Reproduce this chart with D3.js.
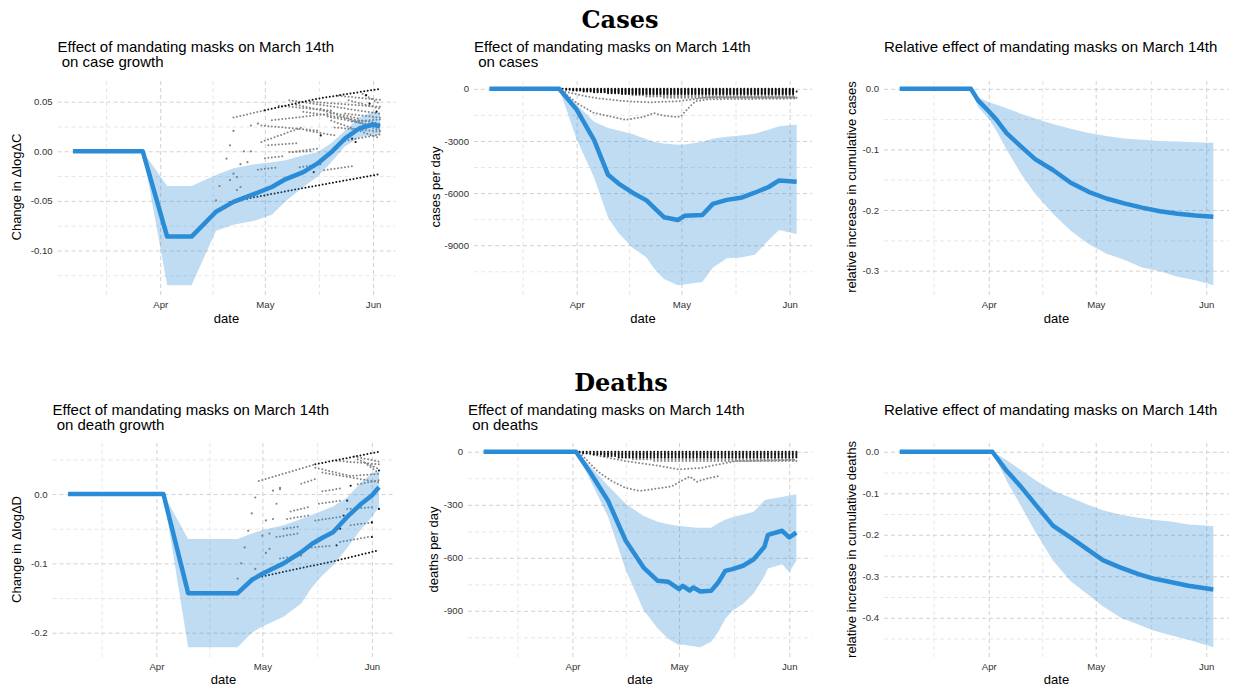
<!DOCTYPE html>
<html><head><meta charset="utf-8">
<script src="https://cdn.jsdelivr.net/npm/d3@7"></script>
<style>
body{margin:0;background:#fff;}
svg{display:block;}
</style></head><body>
<script>
// ---------------- shared axis data ----------------
const monthTicks = ["2020-04-01","2020-05-01","2020-06-01"];
const monthLabels = ["Apr","May","Jun"];
const monthStarts = ["2020-03-01","2020-04-01","2020-05-01","2020-06-01","2020-07-01"];

// ---------------- Cases: effect on case growth ----------------
const cgDates = ["2020-03-07","2020-03-27","2020-04-03","2020-04-10","2020-04-17","2020-04-22","2020-04-28","2020-05-03","2020-05-07","2020-05-12","2020-05-16","2020-05-20","2020-05-24","2020-05-28","2020-06-01","2020-06-03"];
const cgMean = [0,0,-0.086,-0.086,-0.061,-0.051,-0.043,-0.036,-0.028,-0.021,-0.0125,-0.001,0.013,0.023,0.027,0.025];
const cgHigh = [0,0,-0.035,-0.035,-0.024,-0.017,-0.013,-0.011,-0.009,-0.004,-0.001,0.008,0.021,0.034,0.040,0.038];
const cgLow  = [0,0,-0.135,-0.135,-0.080,-0.074,-0.070,-0.064,-0.050,-0.036,-0.026,-0.011,0.005,0.014,0.017,0.016];
const cgDotLines = [
 {group:"path",  pts:[["2020-04-22",0.034],["2020-05-01",0.0414]]},
 {group:"bound", pts:[["2020-05-01",0.0414],["2020-05-16",0.053],["2020-06-03",0.063]]},
 {group:"bound", pts:[["2020-04-21",-0.051],["2020-05-11",-0.0377],["2020-06-03",-0.023]]},
 {group:"path", pts:[["2020-04-30",0.026],["2020-05-16",0.021]]},
 {group:"path", pts:[["2020-05-02",0.006],["2020-05-10",0.008]]},
 {group:"path", pts:[["2020-05-09",-0.0007],["2020-05-16",0.0027]]},
 {group:"path", pts:[["2020-04-29",-0.0185],["2020-05-04",-0.0165]]},
 {group:"path", pts:[["2020-05-18",-0.019],["2020-05-26",-0.015]]},
 {group:"path", pts:[["2020-05-08",0.0515],["2020-06-03",0.038]]},
 {group:"path", pts:[["2020-05-12",0.040],["2020-06-03",0.028]]},
 {group:"path", pts:[["2020-05-17",0.043],["2020-06-03",0.021]]},
 {group:"path", pts:[["2020-05-20",0.031],["2020-06-03",0.013]]},
 {group:"path", pts:[["2020-05-13",0.021],["2020-05-21",0.016]]},
 {group:"path", pts:[["2020-05-25",0.0515],["2020-06-03",0.043]]},
 {group:"path", pts:[["2020-05-29",0.058],["2020-06-03",0.048]]},
 {group:"path", pts:[["2020-05-21",0.024],["2020-06-03",0.020]]},
 {group:"path", pts:[["2020-05-23",0.010],["2020-06-03",0.017]]},
 {group:"path", pts:[["2020-05-26",0.030],["2020-06-03",0.032]]},
 {group:"path", pts:[["2020-05-19",0.035],["2020-06-03",0.025]]},
 {group:"path", pts:[["2020-05-01",-0.007],["2020-05-06",-0.005]]},
 {group:"path", pts:[["2020-05-08",-0.0007],["2020-05-14",0.0]]},
 {group:"path", pts:[["2020-05-11",-0.016],["2020-05-17",-0.013]]},
 {group:"path", pts:[["2020-04-30",0.0094],["2020-05-12",0.0246]]},
 {group:"path", pts:[["2020-05-03",0.0313],["2020-05-20",0.038]]},
 {group:"path", pts:[["2020-05-05",0.046],["2020-05-20",0.041]]},
 {group:"path", pts:[["2020-05-10",0.047],["2020-05-28",0.033]]},
 {group:"path", pts:[["2020-05-14",0.050],["2020-06-03",0.045]]},
 {group:"path", pts:[["2020-05-22",0.056],["2020-06-03",0.052]]},
 {group:"path", pts:[["2020-05-24",0.038],["2020-06-03",0.034]]}
];
const cgPathDots = [["2020-04-22",0.0205],["2020-04-27",0.026],["2020-04-29",0.028],["2020-04-20",-0.0074],["2020-04-25",0.0],["2020-04-27",0.0],["2020-04-24",-0.013],["2020-04-26",-0.011],["2020-04-23",-0.026],["2020-04-24",-0.036],["2020-04-18",-0.035],["2020-04-17",-0.0495],["2020-04-21",-0.029],["2020-04-22",-0.0226],["2020-04-21",0.006],["2020-04-23",-0.039]];
const cgBoundDots = [["2020-05-31",0.048],["2020-05-30",0.0566],["2020-06-02",0.040],["2020-05-26",0.0128],["2020-05-17",0.016],["2020-05-15",-0.021],["2020-05-27",0.0094]];
const cgYTicks = [0.05,0,-0.05,-0.10];
const cgYLabels = ["0.05","0.00","-0.05","-0.10"];

// ---------------- Cases: effect on cases per day ----------------
const ccDates = ["2020-03-07","2020-03-27","2020-04-01","2020-04-06","2020-04-10","2020-04-13","2020-04-17","2020-04-21","2020-04-23","2020-04-26","2020-04-30","2020-05-02","2020-05-07","2020-05-10","2020-05-14","2020-05-18","2020-05-22","2020-05-26","2020-05-29","2020-06-03"];
const ccMean = [0,0,-1200,-2950,-4950,-5450,-5980,-6420,-6810,-7390,-7550,-7300,-7260,-6620,-6390,-6270,-5980,-5650,-5270,-5350];
const ccHigh = [0,0,-900,-1900,-2250,-2400,-2600,-2900,-3050,-3150,-3220,-3200,-3050,-2880,-2760,-2680,-2580,-2350,-2150,-2070];
const ccLow  = [0,0,-2900,-5100,-7400,-8300,-9150,-9700,-10300,-10950,-11300,-11250,-11120,-10300,-9750,-9700,-9550,-8700,-8130,-8350];
const ccCombLevels = [0,-50,-100,-150,-200,-250,-300,-370,-440,-510];
const ccCombStarts = ["2020-03-27","2020-03-29","2020-03-31","2020-04-03","2020-04-06","2020-04-10","2020-04-14","2020-04-17","2020-04-21","2020-04-26"];
const ccCombGroups = ["bound","bound","bound","bound","bound","bound","bound","path","path","path"];
const ccDotLines = [
 {group:"path", pts:[["2020-03-27",0],["2020-04-01",-813],["2020-04-06",-1393],["2020-04-15",-1780],["2020-04-20",-1625],["2020-04-23",-1393],["2020-04-26",-1548],["2020-04-30",-1625],["2020-05-01",-1548],["2020-05-03",-1103],["2020-05-05",-716],["2020-05-09",-600],["2020-06-03",-560]]},
 {group:"path", pts:[["2020-03-27",0],["2020-03-28",-135],["2020-04-06",-522],["2020-04-15",-716],["2020-04-22",-774],["2020-04-30",-716],["2020-05-09",-480],["2020-06-03",-480]]}
];
const ccYTicks = [0,-3000,-6000,-9000];
const ccYLabels = ["0","-3000","-6000","-9000"];

// ---------------- Cases: relative cumulative ----------------
const rcDates = ["2020-03-07","2020-03-27","2020-03-29","2020-04-01","2020-04-03","2020-04-06","2020-04-10","2020-04-14","2020-04-19","2020-04-24","2020-04-29","2020-05-04","2020-05-09","2020-05-14","2020-05-19","2020-05-24","2020-05-29","2020-06-03"];
const rcMean = [0,0,-0.019,-0.037,-0.050,-0.073,-0.095,-0.116,-0.134,-0.155,-0.170,-0.181,-0.189,-0.196,-0.202,-0.206,-0.209,-0.211];
const rcHigh = [0,0,-0.014,-0.022,-0.026,-0.032,-0.041,-0.049,-0.058,-0.066,-0.073,-0.078,-0.082,-0.084,-0.086,-0.087,-0.088,-0.089];
const rcLow  = [0,0,-0.030,-0.050,-0.068,-0.100,-0.140,-0.173,-0.206,-0.234,-0.256,-0.272,-0.282,-0.295,-0.301,-0.310,-0.316,-0.324];
const rcYTicks = [0,-0.1,-0.2,-0.3];
const rcYLabels = ["0.0","-0.1","-0.2","-0.3"];

// ---------------- Deaths: effect on death growth ----------------
const dgDates = ["2020-03-07","2020-04-03","2020-04-10","2020-04-17","2020-04-24","2020-04-28","2020-05-01","2020-05-07","2020-05-12","2020-05-15","2020-05-18","2020-05-21","2020-05-25","2020-05-29","2020-06-01","2020-06-03"];
const dgMean = [0,0,-0.143,-0.143,-0.143,-0.124,-0.115,-0.100,-0.084,-0.072,-0.063,-0.055,-0.033,-0.014,-0.002,0.010];
const dgHigh = [0,0,-0.065,-0.065,-0.065,-0.057,-0.052,-0.045,-0.036,-0.030,-0.024,-0.018,-0.005,0.017,0.030,0.033];
const dgLow  = [0,0,-0.221,-0.221,-0.221,-0.200,-0.191,-0.177,-0.158,-0.135,-0.117,-0.103,-0.078,-0.050,-0.033,-0.019];
const dgDotLines = [
 {group:"path",  pts:[["2020-04-30",0.019],["2020-05-16",0.043]]},
 {group:"bound", pts:[["2020-05-16",0.043],["2020-06-03",0.061]]},
 {group:"bound", pts:[["2020-04-28",-0.122],["2020-05-22",-0.096],["2020-06-03",-0.081]]},
 {group:"path", pts:[["2020-05-12",0.015],["2020-05-16",0.0215]]},
 {group:"path", pts:[["2020-05-18",0.004],["2020-05-23",0.008]]},
 {group:"path", pts:[["2020-05-16",0.038],["2020-05-26",0.026],["2020-06-03",0.029]]},
 {group:"path", pts:[["2020-05-18",0.031],["2020-06-03",0.017]]},
 {group:"path", pts:[["2020-05-22",0.048],["2020-06-03",0.043]]},
 {group:"path", pts:[["2020-05-09",-0.025],["2020-05-14",-0.019]]},
 {group:"path", pts:[["2020-05-17",-0.014],["2020-05-23",-0.0096]]},
 {group:"path", pts:[["2020-05-28",0.014],["2020-06-03",0.020]]},
 {group:"path", pts:[["2020-05-07",-0.050],["2020-05-11",-0.047]]},
 {group:"path", pts:[["2020-05-16",-0.038],["2020-05-23",-0.033]]},
 {group:"path", pts:[["2020-05-06",-0.093],["2020-05-12",-0.089]]},
 {group:"path", pts:[["2020-05-15",-0.077],["2020-05-20",-0.075]]},
 {group:"path", pts:[["2020-05-23",-0.069],["2020-05-31",-0.062]]},
 {group:"path", pts:[["2020-05-26",-0.045],["2020-06-01",-0.041]]},
 {group:"path", pts:[["2020-05-25",-0.0215],["2020-06-01",-0.019]]},
 {group:"path", pts:[["2020-05-27",0.054],["2020-06-03",0.047]]},
 {group:"path", pts:[["2020-05-28",0.050],["2020-06-03",0.036]]},
 {group:"path", pts:[["2020-05-30",0.045],["2020-06-03",0.030]]},
 {group:"path", pts:[["2020-05-05",-0.062],["2020-05-11",-0.057]]},
 {group:"path", pts:[["2020-05-08",-0.036],["2020-05-14",-0.031]]}
];
const dgPathDots = [["2020-04-29",-0.005],["2020-05-04",0.005],["2020-05-06",0.007],["2020-04-28",-0.028],["2020-05-02",-0.038],["2020-05-04",-0.036],["2020-05-01",-0.060],["2020-04-26",-0.077],["2020-05-03",-0.079],["2020-04-29",-0.108],["2020-04-25",-0.100],["2020-04-24",-0.122],["2020-04-27",-0.053],["2020-05-02",-0.085],["2020-05-06",0.009],["2020-05-05",-0.014],["2020-05-03",-0.057]];
const dgBoundDots = [["2020-05-25",-0.0096],["2020-05-26",0.012],["2020-05-22",-0.074],["2020-05-24",-0.031],["2020-06-03",-0.0215],["2020-06-01",-0.062],["2020-06-01",-0.041],["2020-06-03",0.034],["2020-05-23",-0.050]];
const dgYTicks = [0,-0.1,-0.2];
const dgYLabels = ["0.0","-0.1","-0.2"];

// ---------------- Deaths: effect on deaths per day ----------------
const pdDates = ["2020-03-07","2020-04-02","2020-04-06","2020-04-11","2020-04-16","2020-04-21","2020-04-25","2020-04-28","2020-05-01","2020-05-02","2020-05-04","2020-05-05","2020-05-07","2020-05-10","2020-05-12","2020-05-14","2020-05-16","2020-05-19","2020-05-22","2020-05-25","2020-05-26","2020-05-30","2020-06-01","2020-06-03"];
const pdMean = [0,0,-117,-277,-504,-655,-730,-736,-777,-759,-785,-768,-791,-787,-740,-674,-664,-645,-608,-538,-470,-447,-485,-457];
const pdHigh = [0,0,-80,-192,-294,-364,-396,-410,-420,-422,-426,-428,-430,-430,-405,-385,-370,-355,-340,-275,-268,-256,-248,-240];
const pdLow  = [0,0,-160,-367,-670,-895,-1000,-1060,-1095,-1090,-1097,-1100,-1106,-1075,-1020,-945,-900,-862,-800,-705,-660,-636,-680,-617];
const pdCombLevels = [0,-8,-16,-24,-32,-42,-52];
const pdCombStarts = ["2020-04-02","2020-04-04","2020-04-07","2020-04-10","2020-04-14","2020-04-18","2020-04-24"];
const pdCombGroups = ["bound","bound","bound","bound","bound","path","path"];
const pdDotLines = [
 {group:"path", pts:[["2020-04-03",-5],["2020-04-08",-110],["2020-04-12",-165],["2020-04-16",-205],["2020-04-20",-222],["2020-04-26",-205],["2020-04-29",-195],["2020-05-02",-161],["2020-05-04",-140],["2020-05-06",-170],["2020-05-09",-150],["2020-05-12",-138]]},
 {group:"path", pts:[["2020-04-03",-3],["2020-04-09",-25],["2020-04-16",-53],["2020-04-26",-82],["2020-05-01",-100],["2020-05-07",-92],["2020-05-12",-72],["2020-05-17",-53],["2020-06-03",-46]]}
];
const pdYTicks = [0,-300,-600,-900];
const pdYLabels = ["0","-300","-600","-900"];

// ---------------- Deaths: relative cumulative ----------------
const rdDates = ["2020-03-07","2020-04-02","2020-04-06","2020-04-10","2020-04-14","2020-04-19","2020-04-24","2020-04-29","2020-05-03","2020-05-08","2020-05-13","2020-05-17","2020-05-22","2020-05-27","2020-06-03"];
const rdMean = [0,0,-0.046,-0.084,-0.126,-0.178,-0.207,-0.237,-0.261,-0.279,-0.295,-0.305,-0.314,-0.323,-0.332];
const rdHigh = [0,0,-0.020,-0.044,-0.068,-0.094,-0.111,-0.128,-0.141,-0.152,-0.159,-0.164,-0.168,-0.175,-0.179];
const rdLow  = [0,0,-0.070,-0.130,-0.192,-0.262,-0.312,-0.345,-0.372,-0.400,-0.416,-0.430,-0.442,-0.453,-0.471];
const rdYTicks = [0,-0.1,-0.2,-0.3,-0.4];
const rdYLabels = ["0.0","-0.1","-0.2","-0.3","-0.4"];

// ---------------- layout (positions & styles) ----------------
const BLUE = "#2a8bd6";
const SANS = "'Liberation Sans', Arial, Helvetica, sans-serif";
const svg = d3.select("body").append("svg").attr("width",1234).attr("height",686);
const parse = d3.timeParse("%Y-%m-%d");

const panels = [
 {rect:[57.6,395.4,79,295], title:["Effect of mandating masks on March 14th"," on case growth"], ytitle:"Change in \u0394log\u0394C", ytx:21, dateY:323,
  dates:cgDates, mean:cgMean, high:cgHigh, low:cgLow, dotLines:cgDotLines, pathDots:cgPathDots, boundDots:cgBoundDots, yTicks:cgYTicks, yLabels:cgYLabels},
 {rect:[474,812,79,295], title:["Effect of mandating masks on March 14th"," on cases"], ytitle:"cases per day", ytx:439.5, dateY:323,
  dates:ccDates, mean:ccMean, high:ccHigh, low:ccLow, dotLines:ccDotLines, combLevels:ccCombLevels, combStarts:ccCombStarts, combGroups:ccCombGroups, yTicks:ccYTicks, yLabels:ccYLabels},
 {rect:[884,1229,79,295], title:["Relative effect of mandating masks on March 14th"], ytitle:"relative increase in cumulative cases", ytx:856, dateY:323,
  dates:rcDates, mean:rcMean, high:rcHigh, low:rcLow, yTicks:rcYTicks, yLabels:rcYLabels},
 {rect:[52.5,394.5,442,657], title:["Effect of mandating masks on March 14th"," on death growth"], ytitle:"Change in \u0394log\u0394D", ytx:21, dateY:683.5,
  dates:dgDates, mean:dgMean, high:dgHigh, low:dgLow, dotLines:dgDotLines, pathDots:dgPathDots, boundDots:dgBoundDots, yTicks:dgYTicks, yLabels:dgYLabels},
 {rect:[468,812,442,657], title:["Effect of mandating masks on March 14th"," on deaths"], ytitle:"deaths per day", ytx:438, dateY:683.5,
  dates:pdDates, mean:pdMean, high:pdHigh, low:pdLow, dotLines:pdDotLines, combLevels:pdCombLevels, combStarts:pdCombStarts, combGroups:pdCombGroups, yTicks:pdYTicks, yLabels:pdYLabels},
 {rect:[884,1229,442,657], title:["Relative effect of mandating masks on March 14th"], ytitle:"relative increase in cumulative deaths", ytx:856, dateY:683.5,
  dates:rdDates, mean:rdMean, high:rdHigh, low:rdLow, yTicks:rdYTicks, yLabels:rdYLabels}
];

function styleGrid(sel, color, width){
  sel.select(".domain").remove();
  sel.selectAll(".tick line").attr("stroke",color).attr("stroke-width",width).attr("stroke-dasharray","4,3");
}

panels.forEach(cfg=>{
  const [x0,x1,y0,y1] = cfg.rect;
  const g = svg.append("g");
  const mean = cfg.dates.map((d,i)=>({date:parse(d), v:cfg.mean[i]}));
  const band = cfg.dates.map((d,i)=>({date:parse(d), lo:cfg.low[i], hi:cfg.high[i]}));
  const lines = (cfg.dotLines||[]).map(s=>({group:s.group, pts:s.pts.map(p=>({date:parse(p[0]), v:p[1]}))}));
  const lastDate = mean[mean.length-1].date;
  (cfg.combLevels||[]).forEach((lv,i)=>lines.push({group:cfg.combGroups[i], pts:[{date:parse(cfg.combStarts[i]),v:lv},{date:lastDate,v:lv}]}));
  const singles = [...(cfg.pathDots||[]).map(p=>({date:parse(p[0]),v:p[1],group:"path"})),
                   ...(cfg.boundDots||[]).map(p=>({date:parse(p[0]),v:p[1],group:"bound"}))];
  const allD = [...mean.map(d=>d.date), ...lines.flatMap(l=>l.pts.map(p=>p.date)), ...singles.map(s=>s.date)];
  const allV = [...cfg.mean, ...cfg.low, ...cfg.high, ...lines.flatMap(l=>l.pts.map(p=>p.v)), ...singles.map(s=>s.v)];
  const [dmin,dmax] = d3.extent(allD), [vmin,vmax] = d3.extent(allV);
  const dx = (dmax-dmin)*0.05, dv = (vmax-vmin)*0.05;
  const x = d3.scaleTime().domain([new Date(+dmin-dx), new Date(+dmax+dx)]).range([x0,x1]);
  const y = d3.scaleLinear().domain([vmin-dv, vmax+dv]).range([y1,y0]);

  // grid
  const mTicks = monthTicks.map(parse);
  const ms = monthStarts.map(parse);
  const xMinor = d3.pairs(ms).map(([a,b])=>new Date((+a + +b)/2)).filter(d=>d>=x.domain()[0] && d<=x.domain()[1]);
  const ySorted = cfg.yTicks.slice().sort((a,b)=>a-b);
  const step = ySorted[1]-ySorted[0];
  const yMinor = [ySorted[0]-step/2, ...d3.pairs(ySorted).map(([a,b])=>(a+b)/2), ySorted[ySorted.length-1]+step/2]
                 .filter(v=>v>=y.domain()[0] && v<=y.domain()[1]);

  g.append("g").attr("transform",`translate(0,${y1})`).call(d3.axisBottom(x).tickValues(xMinor).tickSize(-(y1-y0)).tickFormat("")).call(s=>styleGrid(s,"#dcdcdc",0.7));
  g.append("g").attr("transform",`translate(${x0},0)`).call(d3.axisLeft(y).tickValues(yMinor).tickSize(-(x1-x0)).tickFormat("")).call(s=>styleGrid(s,"#dcdcdc",0.7));
  g.append("g").attr("transform",`translate(0,${y1})`).call(d3.axisBottom(x).tickValues(mTicks).tickSize(-(y1-y0)).tickFormat("")).call(s=>styleGrid(s,"#cccccc",0.9));
  g.append("g").attr("transform",`translate(${x0},0)`).call(d3.axisLeft(y).tickValues(cfg.yTicks).tickSize(-(x1-x0)).tickFormat("")).call(s=>styleGrid(s,"#cccccc",0.9));

  // tick labels
  const xl = g.append("g").attr("transform",`translate(0,${y1})`)
    .call(d3.axisBottom(x).tickValues(mTicks).tickSize(0).tickPadding(6.5).tickFormat((d,i)=>monthLabels[i]));
  xl.select(".domain").remove();
  xl.attr("font-size",null).attr("font-family",null);
  xl.selectAll("text").style("font-size","9.6px").style("font-family",SANS).attr("fill","#333");
  const yl = g.append("g").attr("transform",`translate(${x0},0)`)
    .call(d3.axisLeft(y).tickValues(cfg.yTicks).tickSize(0).tickPadding(5).tickFormat((d,i)=>cfg.yLabels[i]));
  yl.select(".domain").remove();
  yl.selectAll("text").style("font-size","9.6px").style("font-family",SANS).attr("fill","#333");

  // dotted series
  const pxDay = x(d3.timeDay.offset(dmin,1)) - x(dmin);
  const lg = d3.line().x(d=>x(d.date)).y(d=>y(d.v));
  g.append("g").selectAll("path").data(lines.filter(l=>l.group==="path")).join("path")
    .attr("d",l=>lg(l.pts)).attr("fill","none").attr("stroke","#858585").attr("stroke-width",2)
    .attr("stroke-linecap","round").attr("stroke-dasharray",`0 ${pxDay}`);
  g.append("g").selectAll("path").data(lines.filter(l=>l.group==="bound")).join("path")
    .attr("d",l=>lg(l.pts)).attr("fill","none").attr("stroke","#111").attr("stroke-width",2)
    .attr("stroke-linecap","round").attr("stroke-dasharray",`0 ${pxDay}`);
  g.append("g").selectAll("circle").data(singles).join("circle")
    .attr("cx",d=>x(d.date)).attr("cy",d=>y(d.v)).attr("r",1.1)
    .attr("fill",d=>d.group==="bound"?"#111":"#858585");

  // band + mean line
  g.append("path").datum(band).attr("fill",BLUE).attr("fill-opacity",0.3)
    .attr("d",d3.area().x(d=>x(d.date)).y0(d=>y(d.lo)).y1(d=>y(d.hi)));
  g.append("path").datum(mean).attr("fill","none").attr("stroke",BLUE).attr("stroke-width",4.5)
    .attr("stroke-linejoin","round").attr("d",lg);

  // titles
  cfg.title.forEach((t,i)=>{
    g.append("text").attr("x",x0).attr("y",y0-27.5+15*i).style("font-family",SANS).style("font-size","15px").attr("fill","#000")
      .style("white-space","pre").text(t);
  });
  g.append("text").attr("x",(x0+x1)/2).attr("y",cfg.dateY).attr("text-anchor","middle").style("font-family",SANS).style("font-size","13px").attr("fill","#000").text("date");
  g.append("text").attr("transform",`translate(${cfg.ytx},${(y0+y1)/2}) rotate(-90)`).attr("text-anchor","middle")
    .style("font-family",SANS).style("font-size","13px").attr("fill","#000").text(cfg.ytitle);
});

// section headings
svg.append("text").attr("x",620).attr("y",28).attr("text-anchor","middle").style("font-family","'DejaVu Serif', 'Liberation Serif', serif")
  .style("font-weight","bold").style("font-size","24px").attr("fill","#000").text("Cases");
svg.append("text").attr("x",621).attr("y",391).attr("text-anchor","middle").style("font-family","'DejaVu Serif', 'Liberation Serif', serif")
  .style("font-weight","bold").style("font-size","24px").attr("fill","#000").text("Deaths");
</script>
</body></html>
